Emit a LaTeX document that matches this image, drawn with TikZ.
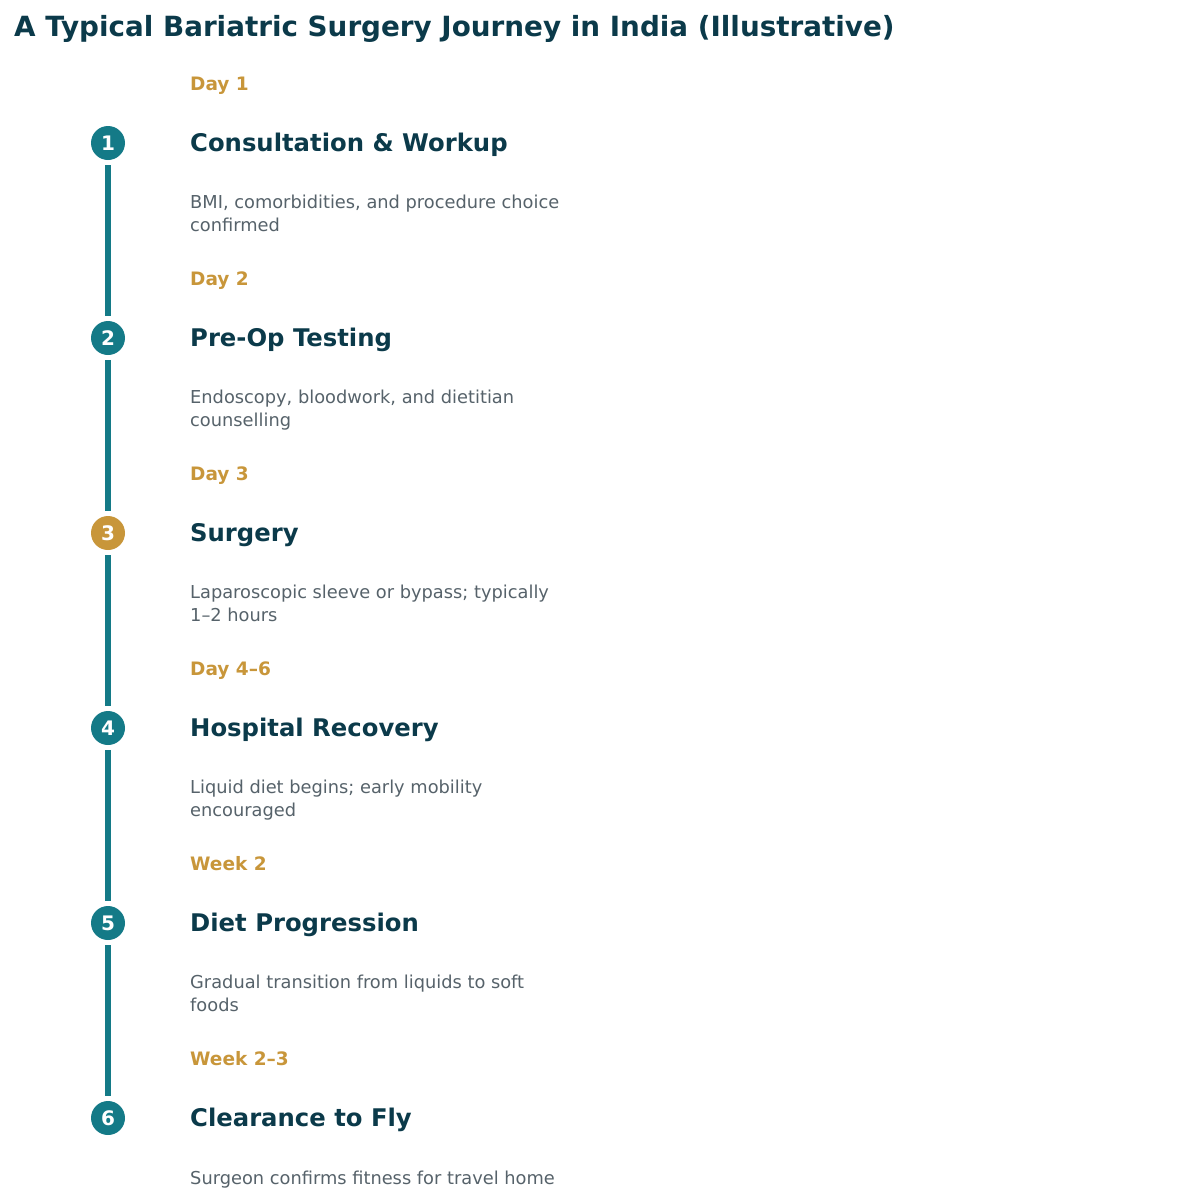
\documentclass[tikz,border=0pt]{standalone}
\usepackage{fontspec}
\setmainfont{DejaVu Sans}
\definecolor{navy}{HTML}{0B3A4A}
\definecolor{teal}{HTML}{147A87}
\definecolor{gold}{HTML}{C8963A}
\definecolor{gray}{HTML}{56626A}
\begin{document}
\begin{tikzpicture}[x=1pt,y=-1pt,
 day/.style={anchor=base west,font=\fontsize{18.5}{22}\selectfont\bfseries,text=gold,inner sep=0},
 head/.style={anchor=base west,font=\fontsize{24.3}{28}\selectfont\bfseries,text=navy,inner sep=0},
 desc/.style={anchor=base west,font=\fontsize{17.8}{22.5}\selectfont,text=gray,inner sep=0,align=left},
 dot/.style={circle,minimum size=34pt,inner sep=0,text=white,font=\fontsize{20}{24}\selectfont\bfseries,fill=teal},
 link/.style={teal,line width=6pt}]
\useasboundingbox (0,0) rectangle (1200,1200);
\node[anchor=base west,inner sep=0,font=\fontsize{27.8}{32}\selectfont\bfseries,text=navy] (title) at (14,36) {A Typical Bariatric Surgery Journey in India (Illustrative)};
\foreach \i/\d/\h/\t/\c/\o in {
 1/Day 1/Consultation \& Workup/{BMI, comorbidities, and procedure choice\\confirmed}/teal/88,
 2/Day 2/Pre-Op Testing/{Endoscopy, bloodwork, and dietitian\\counselling}/teal/88,
 3/Day 3/Surgery/{Laparoscopic sleeve or bypass; typically\\1–2 hours}/gold/88,
 4/Day 4–6/Hospital Recovery/{Liquid diet begins; early mobility\\encouraged}/teal/88,
 5/Week 2/Diet Progression/{Gradual transition from liquids to soft\\foods}/teal/88,
 6/Week 2–3/Clearance to Fly/{Surgeon confirms fitness for travel home}/teal/66}{
 \pgfmathsetmacro\y{143+195*(\i-1)}
 \node[day] (d\i) at (190,\y-53) {\d};
 \node[head] (h\i) at (190,\y+8) {\h};
 \node[desc] (t\i) at (190,\y+\o) {\t};
 \node[dot,fill=\c] (c\i) at (108,\y) {\i};
}
\foreach \a/\b in {1/2,2/3,3/4,4/5,5/6}{
 \draw[link] ([yshift=-5pt]c\a.south) -- ([yshift=5pt]c\b.north);
}
\end{tikzpicture}
\end{document}
